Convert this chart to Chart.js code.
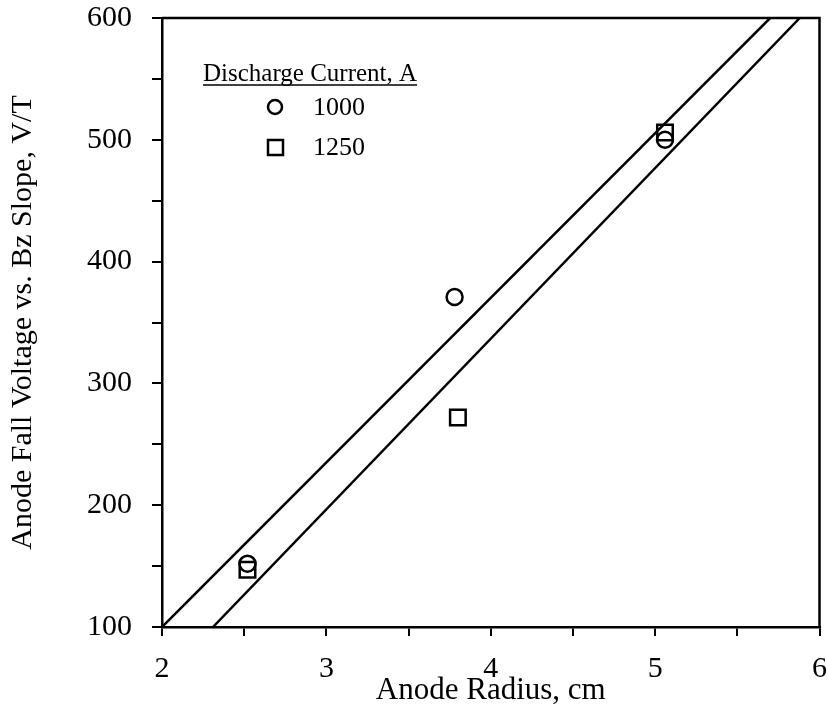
<!DOCTYPE html>
<html>
<head>
<meta charset="utf-8">
<script src="https://cdn.jsdelivr.net/npm/chart.js@4"></script>
<style>
  html, body { margin: 0; padding: 0; background: #fff; overflow: hidden; }
  #wrap { width: 828px; height: 722px; overflow: hidden; }
</style>
</head>
<body>
<div id="wrap"><canvas id="chart" width="833" height="722"></canvas></div>
<script>
// data
const current1000 = [{ x: 2.52, y: 152 }, { x: 3.78, y: 371 }, { x: 5.06, y: 500 }];
const current1250 = [{ x: 2.52, y: 147 }, { x: 3.80, y: 272 }, { x: 5.06, y: 506 }];
const fitUpper = [{ x: 2.0, y: 100 }, { x: 5.70, y: 600 }];
const fitLower = [{ x: 2.31, y: 100 }, { x: 5.88, y: 600 }];
const legendTitle = 'Discharge Current, A';
const legendLabels = ['1000', '1250'];

const font = '"Liberation Serif", "Times New Roman", serif';

// frame on top/right + the little legend box inside the plot
const framePlugin = {
  id: 'frame',
  afterDraw(c) {
    const { ctx, chartArea: a } = c;
    ctx.save();
    ctx.strokeStyle = '#000';
    ctx.lineWidth = 2.5;
    ctx.beginPath();
    ctx.moveTo(a.left, a.top);
    ctx.lineTo(a.right, a.top);
    ctx.lineTo(a.right, a.bottom);
    ctx.stroke();

    ctx.fillStyle = '#000';
    ctx.font = '25px ' + font;
    ctx.textBaseline = 'alphabetic';
    ctx.textAlign = 'left';
    const tx = 203, ty = 81;
    ctx.fillText(legendTitle, tx, ty);
    const w = ctx.measureText(legendTitle).width;
    ctx.lineWidth = 1.5;
    ctx.beginPath();
    ctx.moveTo(tx, ty + 4);
    ctx.lineTo(tx + w, ty + 4);
    ctx.stroke();

    ctx.lineWidth = 2.5;
    ctx.beginPath();
    ctx.arc(275, 107, 7, 0, Math.PI * 2);
    ctx.stroke();
    ctx.strokeRect(268, 140, 15, 15);
    ctx.font = '26px ' + font;
    ctx.textBaseline = 'middle';
    ctx.fillText(legendLabels[0], 313, 108);
    ctx.fillText(legendLabels[1], 313, 148);
    ctx.restore();
  }
};

new Chart(document.getElementById('chart'), {
  type: 'scatter',
  data: {
    datasets: [
      { type: 'line', data: fitUpper, borderColor: '#000', borderWidth: 2.5, pointRadius: 0, fill: false },
      { type: 'line', data: fitLower, borderColor: '#000', borderWidth: 2.5, pointRadius: 0, fill: false },
      { label: legendLabels[0], data: current1000, pointStyle: 'circle', pointRadius: 8, borderColor: '#000', borderWidth: 2.5, backgroundColor: 'rgba(0,0,0,0)' },
      { label: legendLabels[1], data: current1250, pointStyle: 'rect', pointRadius: 11, borderColor: '#000', borderWidth: 2.5, backgroundColor: 'rgba(0,0,0,0)' }
    ]
  },
  options: {
    responsive: false,
    animation: false,
    layout: { padding: { top: 18, right: 0, left: 0, bottom: 0 } },
    plugins: { legend: { display: false }, tooltip: { enabled: false } },
    scales: {
      x: {
        type: 'linear', min: 2, max: 6,
        afterFit: s => { s.height = 95; s.paddingLeft = 0; s.paddingRight = 0; },
        border: { display: true, color: '#000', width: 2.5 },
        grid: { drawOnChartArea: false, drawTicks: true, tickLength: 9, color: '#000', lineWidth: 2 },
        ticks: {
          stepSize: 0.5, color: '#000', padding: 15,
          font: { family: font, size: 30 },
          maxRotation: 0,
          callback: v => (v % 1 === 0 ? v : '')
        },
        title: { display: true, text: 'Anode Radius, cm', color: '#000', font: { family: font, size: 31 }, padding: { top: 0, bottom: 13 } }
      },
      y: {
        type: 'linear', min: 100, max: 600,
        afterFit: s => { s.width = 162; s.paddingTop = 0; s.paddingBottom = 0; },
        border: { display: true, color: '#000', width: 2.5 },
        grid: { drawOnChartArea: false, drawTicks: true, tickLength: 10, color: '#000', lineWidth: 2 },
        ticks: {
          stepSize: 50, color: '#000', padding: 20,
          font: { family: font, size: 30 },
          callback: v => (v % 100 === 0 ? v : '')
        },
        title: { display: true, text: 'Anode Fall Voltage vs. Bz Slope, V/T', color: '#000', font: { family: font, size: 30 }, padding: { top: 5, bottom: 0 } }
      }
    }
  },
  plugins: [framePlugin]
});
</script>
</body>
</html>
